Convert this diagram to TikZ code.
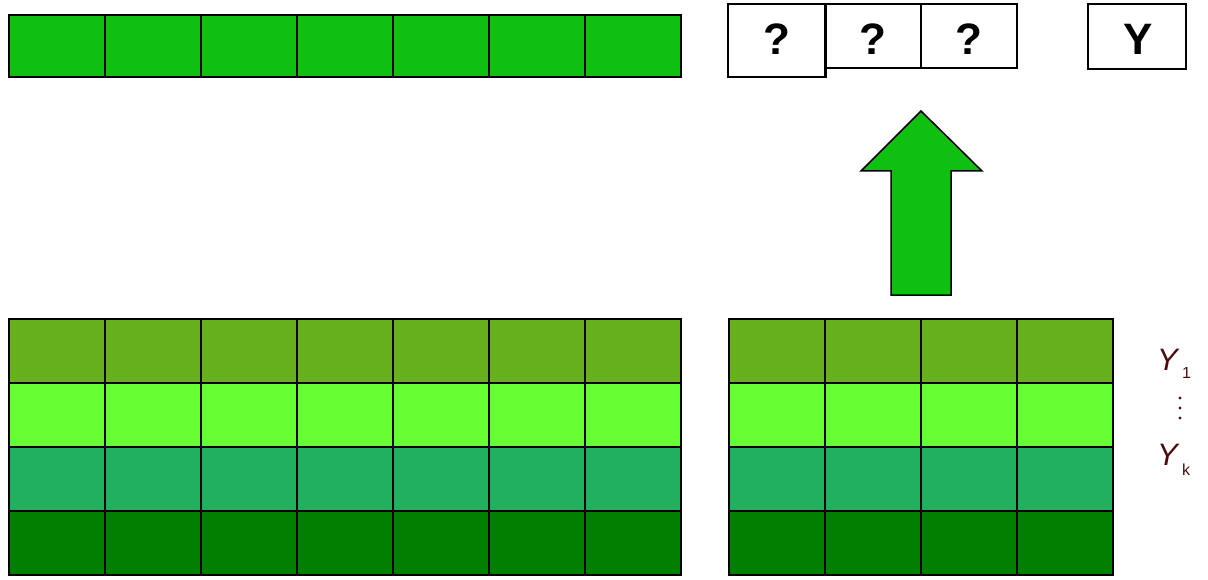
\documentclass[tikz,border=0pt]{standalone}
\usepackage{fontspec}
\setmainfont{Liberation Sans}
\definecolor{topg}{RGB}{16,192,16}
\definecolor{rowa}{RGB}{102,176,30}
\definecolor{rowb}{RGB}{102,255,51}
\definecolor{rowc}{RGB}{33,175,96}
\definecolor{rowd}{RGB}{0,127,0}
\definecolor{lab}{RGB}{77,12,12}
\begin{document}
\begin{tikzpicture}[x=1pt,y=-1pt,
  cell/.style={draw=black,line width=2pt,minimum width=96pt,minimum height=64pt,inner sep=0pt,anchor=center},
  topcell/.style={cell,fill=topg,minimum height=62pt},
  qbox/.style={draw=black,line width=1.5pt,fill=white,inner sep=0pt},
  qtext/.style={inner sep=0pt,anchor=base,font=\fontsize{44}{44}\selectfont\bfseries},
  lbl/.style={text=lab,inner sep=0pt,font=\fontsize{31}{31}\selectfont\itshape},
  sub/.style={text=lab,inner sep=0pt,anchor=base west,font=\fontsize{16}{16}\selectfont}]
\useasboundingbox (0,0) rectangle (1208,580);
% top row
\foreach \i in {0,...,6}{
  \node[topcell] (t\i) at ({57+96*\i},46) {};
}
% bottom grids
\foreach \r/\c in {0/rowa,1/rowb,2/rowc,3/rowd}{
  \foreach \i in {0,...,6}{
    \node[cell,fill=\c] (L\r\i) at ({57+96*\i},{351+64*\r}) {};
  }
  \foreach \i in {0,...,3}{
    \node[cell,fill=\c] (R\r\i) at ({777+96*\i},{351+64*\r}) {};
  }
}
% question boxes
\node[qbox,minimum width=97pt,minimum height=73pt] (q1) at (776.5,40.5) {};
\node[qbox,minimum width=96pt,minimum height=64pt] (q2) at (873,36) {};
\node[qbox,minimum width=96pt,minimum height=64pt] (q3) at (969,36) {};
\node[qbox,minimum width=98pt,minimum height=65pt] (yb) at (1137,36.5) {};
\draw[line width=1.5pt] (q1.north east) -- (q1.south east);
\node[qtext] (q1t) at (777,55) {?};
\node[qtext] (q2t) at (873,55) {?};
\node[qtext] (q3t) at (969,55) {?};
\node[qtext] (ybt) at (1138,55) {Y};
% big arrow
\draw[fill=topg,line width=1.5pt,line join=miter]
  (921,111) -- (982,171) -- (951,171) -- (951,295) -- (891,295) -- (891,171) -- (861,171) -- cycle;
% labels
\node[lbl,anchor=base west] (y1) at (1157,370) {Y};
\node[sub] (s1) at (1182,378) {1};
\node[lbl,anchor=base west] (yk) at (1157,465) {Y};
\node[sub] (sk) at (1182,475) {k};
\foreach \yy in {398,408,418}{\fill[lab] (1180,\yy) circle (1.6pt);}
\end{tikzpicture}
\end{document}
